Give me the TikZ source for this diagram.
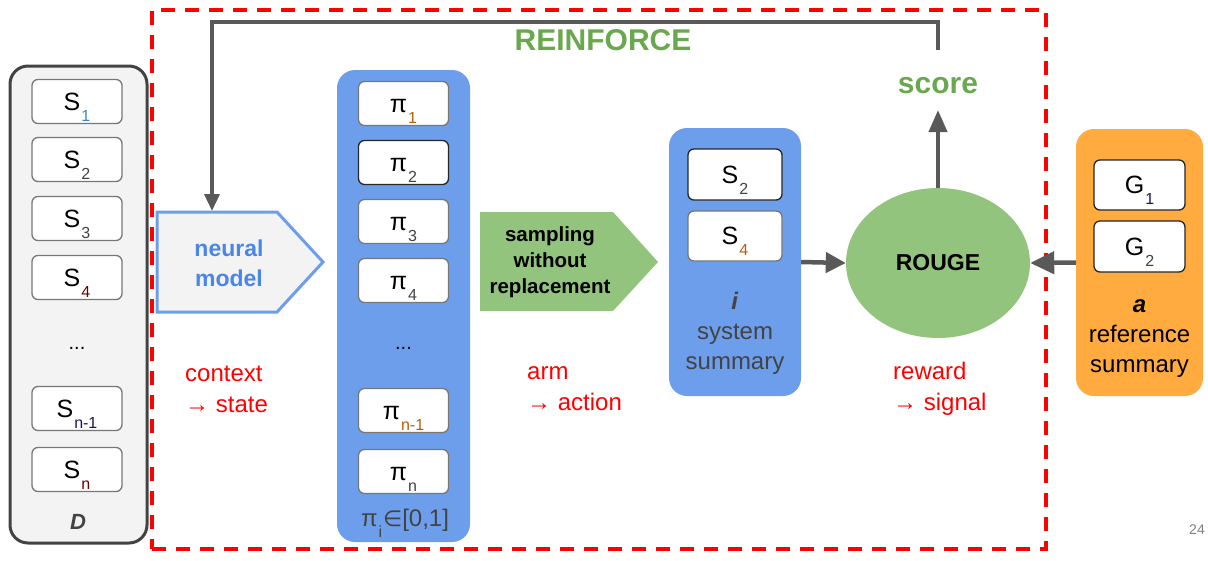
\documentclass[tikz,border=0pt]{standalone}
\usepackage{fontspec}
\setmainfont{Liberation Sans}
\newfontfamily\dejavu{DejaVu Sans}
\usetikzlibrary{arrows.meta,shapes.geometric}
\definecolor{boxblue}{HTML}{6D9EEB}
\definecolor{nmblue}{HTML}{4A86E8}
\definecolor{lgreen}{HTML}{93C47D}
\definecolor{dgreen}{HTML}{6AA84F}
\definecolor{arrgray}{HTML}{595959}
\definecolor{dgray}{HTML}{434343}
\definecolor{lgray}{HTML}{F3F3F3}
\definecolor{itemgray}{HTML}{777777}
\definecolor{orng}{HTML}{FFAB40}
\definecolor{redd}{HTML}{FF0000}
\definecolor{subblue}{HTML}{3D85C6}
\definecolor{subred}{HTML}{660000}
\definecolor{subor}{HTML}{B45F06}
\definecolor{subpur}{HTML}{20124D}
\newcommand{\lowsub}[2][black]{\kern1pt\smash{\raisebox{-11pt}{\fontsize{16}{16}\selectfont\color{#1}#2}}}
\begin{document}
\begin{tikzpicture}[x=1pt,y=-1pt,
  item/.style={draw=itemgray, line width=1.3pt, rounded corners=6pt, fill=white,
    minimum width=90pt, minimum height=44pt, inner sep=0pt, font=\fontsize{25}{27}\selectfont},
  itemdark/.style={item, draw=black!85},
  container/.style={rounded corners=18pt, inner sep=0pt},
  arr/.style={draw=arrgray, line width=4.5pt, -{Triangle[length=20pt,width=20pt]}},
  fb/.style={draw=arrgray, line width=3.5pt, -{Triangle[length=17pt,width=15pt]}},
  redlabel/.style={anchor=west, align=left, text=redd, font=\fontsize{24}{31}\selectfont, inner sep=0pt},
]
\useasboundingbox (0,0) rectangle (1208,560);

% red dashed REINFORCE frame
\node[draw=redd, line width=3.5pt, dash pattern=on 14pt off 10pt, minimum width=894pt, minimum height=539pt, inner sep=0pt] (frame) at (599,279.5) {};
\node[text=dgreen, font=\bfseries\fontsize{30}{32}\selectfont] (reinf) at (603,40) {REINFORCE};

% D container
\node[container, draw=dgray, line width=3pt, fill=lgray, minimum width=137pt, minimum height=477pt] (D) at (78.5,304.5) {};
\node[item] (s1) at (77,101.5) {S\lowsub[subblue]{1}};
\node[item] (s2) at (77,159.5) {S\lowsub[dgray]{2}};
\node[item] (s3) at (77,218.5) {S\lowsub[dgray]{3}};
\node[item] (s4) at (77,277.5) {S\lowsub[subred]{4}};
\node[font=\fontsize{20}{22}\selectfont] (sdots) at (77,348) {...};
\node[item] (sn1) at (77,408.5) {S\lowsub[subpur]{n-1}};
\node[item] (sn) at (77,469.5) {S\lowsub[subred]{n}};
\node[text=dgray, font=\bfseries\itshape\fontsize{22}{24}\selectfont] (Dlab) at (78,522) {D};

% pi container
\node[container, fill=boxblue, minimum width=133pt, minimum height=472pt] (P) at (403.5,306) {};
\node[item] (p1) at (403.5,103.5) {\vphantom{S}π\lowsub[subor]{1}};
\node[itemdark] (p2) at (403.5,162.5) {\vphantom{S}π\lowsub[dgray]{2}};
\node[item] (p3) at (403.5,221.5) {\vphantom{S}π\lowsub[dgray]{3}};
\node[item] (p4) at (403.5,280.5) {\vphantom{S}π\lowsub[dgray]{4}};
\node[font=\fontsize{20}{22}\selectfont] (pdots) at (403.5,348) {...};
\node[item] (pn1) at (403.5,410.5) {\vphantom{S}π\lowsub[subor]{n-1}};
\node[item] (pn) at (403.5,471.5) {\vphantom{S}π\lowsub[dgray]{n}};
\node[text=dgray, font=\fontsize{24}{26}\selectfont] (plab) at (405,520) {π\lowsub[dgray]{i}\kern1pt{\dejavu\fontsize{22}{24}\selectfont ∈}[0,1]};

% neural model
\draw[fill=lgray, draw=boxblue, line width=3pt, line join=miter] (157,212) -- (277,212) -- (323,262) -- (277,312) -- (157,312) -- cycle;
\node[text=nmblue, align=center, font=\bfseries\fontsize{23}{30}\selectfont] (nm) at (229,263) {neural\\model};
\coordinate (nmtop) at (212,211);
\coordinate (fbstart) at (938,50);
\draw[fb] (fbstart) -- ++(0,-28) -| (nmtop);

% sampling
\fill[lgreen] (480,212) -- (613,212) -- (658,262) -- (613,311) -- (480,311) -- cycle;
\node[align=center, font=\bfseries\fontsize{20.5}{26}\selectfont] (samp) at (550,262) {sampling\\without\\replacement};

% system summary
\node[container, fill=boxblue, minimum width=132pt, minimum height=268pt] (summ) at (735,262) {};
\node[itemdark, minimum width=94pt, minimum height=51pt] (ss2) at (735,174.5) {S\lowsub[dgray]{2}};
\node[item, minimum width=94pt, minimum height=50pt] (ss4) at (735,236) {S\lowsub[subor]{4}};
\node[text=dgray, align=center, font=\fontsize{24}{30}\selectfont] (summlab) at (735,333) {\textbf{\textit{i}}\\system\\summary};

% ROUGE
\node[ellipse, fill=lgreen, minimum width=184pt, minimum height=150pt, inner sep=0pt, font=\bfseries\fontsize{23}{24}\selectfont] (rouge) at (938,263) {ROUGE};
\node[text=dgreen, font=\bfseries\fontsize{30}{32}\selectfont] (score) at (938,86) {score};
\coordinate (scoretip) at (938,110);
\draw[arr, line width=4pt, -{Triangle[length=22pt,width=18pt]}] (rouge.north) -- (scoretip);

% reference summary
\node[container, fill=orng, minimum width=127pt, minimum height=267pt] (ref) at (1139.5,262.5) {};
\node[itemdark, minimum width=91pt, minimum height=50pt] (g1) at (1139.5,185) {G\lowsub[subpur]{1}};
\node[itemdark, minimum width=91pt, minimum height=51pt] (g2) at (1139.5,246.5) {G\lowsub[dgray]{2}};
\node[align=center, font=\fontsize{24}{30}\selectfont] (reflab) at (1139.5,339) {\textbf{\textit{a}}\\reference\\summary};

\draw[arr] (summ.east) -- (rouge.west);
\draw[arr, -{Triangle[length=24pt,width=22pt]}] (ref.west) -- (rouge.east);

% red labels
\node[redlabel] (ctx) at (185,389) {context\\→ state};
\node[redlabel] (armlab) at (527,389) {arm\\→ action};
\node[redlabel] (rew) at (893,389) {reward\\→ signal};

\node[text=gray, font=\fontsize{14}{16}\selectfont] (pg) at (1197,530) {24};
\end{tikzpicture}
\end{document}
